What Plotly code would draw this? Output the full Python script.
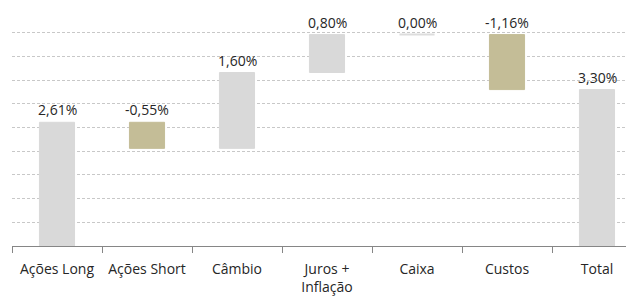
import plotly.graph_objects as go

categories = ["Ações Long", "Ações Short", "Câmbio", "Juros +<br>Inflação", "Caixa", "Custos", "Total"]
values = [2.61, -0.55, 1.60, 0.80, 0.00, -1.16, 3.30]
measures = ["relative", "relative", "relative", "relative", "relative", "relative", "total"]

GRAY = "#D9D9D9"
TAN = "#C4BD97"
FONT = "Open Sans"
BAR_W = 0.39

# label positions: top of each bar
tops = []
cum = 0.0
for v, m in zip(values, measures):
    if m == "total":
        tops.append(v)
        cum = v
    else:
        start = cum
        cum = cum + v
        tops.append(max(start, cum))
labels = [f"{v:.2f}%".replace(".", ",") for v in values]

fig = go.Figure()
fig.add_trace(go.Waterfall(
    x=categories, y=values, measure=measures,
    width=BAR_W,
    increasing=dict(marker=dict(color=GRAY, line=dict(color=GRAY, width=1))),
    decreasing=dict(marker=dict(color=TAN, line=dict(color=TAN, width=1))),
    totals=dict(marker=dict(color=GRAY, line=dict(color=GRAY, width=1))),
    connector=dict(visible=False),
    hoverinfo="skip",
))

for i, (t, lab) in enumerate(zip(tops, labels)):
    fig.add_annotation(x=categories[i], y=t, text=lab, showarrow=False,
                       xanchor="center", yanchor="bottom", yshift=1,
                       font=dict(family=FONT, size=14, color="#262626"))

# zero-height steps drawn as a thin line at their level
for i, v in enumerate(values):
    if v == 0:
        fig.add_shape(type="line", xref="x", yref="y",
                      x0=i - BAR_W / 2, x1=i + BAR_W / 2, y0=tops[i], y1=tops[i],
                      line=dict(color="#DDDDDD", width=2))

fig.update_layout(
    width=634, height=297,
    margin=dict(l=4, r=0, t=1, b=59),
    paper_bgcolor="white", plot_bgcolor="white",
    showlegend=False,
    font=dict(family=FONT, size=14, color="#262626"),
    xaxis=dict(
        range=[-0.5, 6.5], automargin=False,
        showline=True, linecolor="#868686", linewidth=1,
        ticks="outside", tickson="boundaries", ticklen=6, tickcolor="#868686",
        ticklabelstandoff=10,
        showgrid=False, tickfont=dict(family=FONT, size=14, color="#262626"),
    ),
    yaxis=dict(
        range=[0, 5], dtick=0.5, showticklabels=False, automargin=False,
        showgrid=True, gridcolor="#C8C8C8", gridwidth=1, griddash="3px,2px",
        zeroline=False, showline=False, ticks="",
    ),
)

fig.write_html("out.html")
